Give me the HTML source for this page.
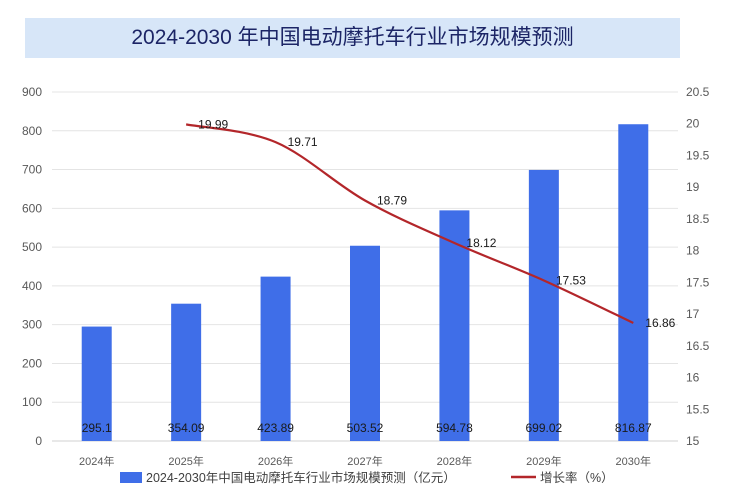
<!DOCTYPE html>
<html><head><meta charset="utf-8">
<style>
body{margin:0;background:#fff;font-family:"Liberation Sans","Noto Sans CJK SC",sans-serif;}
#wrap{position:relative;width:735px;height:494px;overflow:hidden;}
#title{position:absolute;left:25px;top:18px;width:655px;height:40px;background:#d7e6f8;color:#1c2566;font-size:21px;line-height:40px;text-align:center;font-family:"Liberation Sans","Noto Sans CJK SC",sans-serif;}
svg{position:absolute;left:0;top:0;}
</style></head><body>
<div id="wrap">
<div id="title">2024-2030 年中国电动摩托车行业市场规模预测</div>
<svg id="chart" width="735" height="494"></svg>
</div>
<script>
const categories=["2024年","2025年","2026年","2027年","2028年","2029年","2030年"];
const marketSize=[295.1,354.09,423.89,503.52,594.78,699.02,816.87];
const growthRate=[null,19.99,19.71,18.79,18.12,17.53,16.86];
const leftTicks=[0,100,200,300,400,500,600,700,800,900];
const rightTicks=[15,15.5,16,16.5,17,17.5,18,18.5,19,19.5,20,20.5];
const NS="http://www.w3.org/2000/svg";
const svg=document.getElementById('chart');
const L=52,R=678,T=92,B=441;
const yL=v=>B-(v/900)*(B-T);
const yR=v=>B-((v-15)/5.5)*(B-T);
const band=(R-L)/categories.length;
const xC=i=>L+band*(i+0.5);
function mk(tag,attrs,txt){const e=document.createElementNS(NS,tag);for(const k in attrs)e.setAttribute(k,attrs[k]);if(txt!==undefined)e.textContent=txt;svg.appendChild(e);return e;}
leftTicks.forEach(v=>{
 const g=mk('line',{x1:L,x2:R,y1:yL(v),y2:yL(v),stroke:v===0?'#d0d0d0':'#e4e4e4','stroke-width':1});
 
 
 const t=mk('text',{x:42,y:yL(v)+4,'text-anchor':'end','font-size':12,fill:'#595959'},v);
 
 
});
rightTicks.forEach(v=>{
 const t=mk('text',{x:686,y:yR(v)+4,'text-anchor':'start','font-size':12,fill:'#595959'},v);
 
 
});
categories.forEach((c,i)=>{
 const b=mk('rect',{x:xC(i)-15,y:yL(marketSize[i]),width:30,height:B-yL(marketSize[i]),fill:'#3f6ee8'});
 
 
 const t=mk('text',{x:xC(i),y:432,'text-anchor':'middle','font-size':12,fill:'#1a1a1a'},marketSize[i]);
 
 
 const x=mk('text',{x:xC(i),y:465,'text-anchor':'middle','font-size':11,fill:'#595959'},c);
 
 
});
const pts=[];growthRate.forEach((v,i)=>{if(v!==null)pts.push([xC(i),yR(v)]);});
let d='M'+pts[0][0]+','+pts[0][1];
for(let i=0;i<pts.length-1;i++){
 const p0=pts[i-1]||pts[i],p1=pts[i],p2=pts[i+1],p3=pts[i+2]||p2;
 const c1=[p1[0]+(p2[0]-p0[0])/6,p1[1]+(p2[1]-p0[1])/6],c2=[p2[0]-(p3[0]-p1[0])/6,p2[1]-(p3[1]-p1[1])/6];
 d+=` C${c1[0]},${c1[1]} ${c2[0]},${c2[1]} ${p2[0]},${p2[1]}`;
}
const ln=mk('path',{d:d,fill:'none',stroke:'#b3262a','stroke-width':2.2});


growthRate.forEach((v,i)=>{if(v===null)return;
 const t=mk('text',{x:xC(i)+12,y:yR(v)+4,'font-size':12,fill:'#1a1a1a'},v.toFixed(2));
 
 
});
const lr=mk('rect',{x:120,y:472,width:22,height:11,fill:'#3f6ee8'});


const lt=mk('text',{x:146,y:482,'font-size':12.5,fill:'#404040'},'2024-2030年中国电动摩托车行业市场规模预测（亿元）');


const ll=mk('line',{x1:511,x2:536,y1:477,y2:477,stroke:'#b3262a','stroke-width':2.5});


const lt2=mk('text',{x:540,y:482,'font-size':12.5,fill:'#404040'},'增长率（%）');


</script>
</body></html>
